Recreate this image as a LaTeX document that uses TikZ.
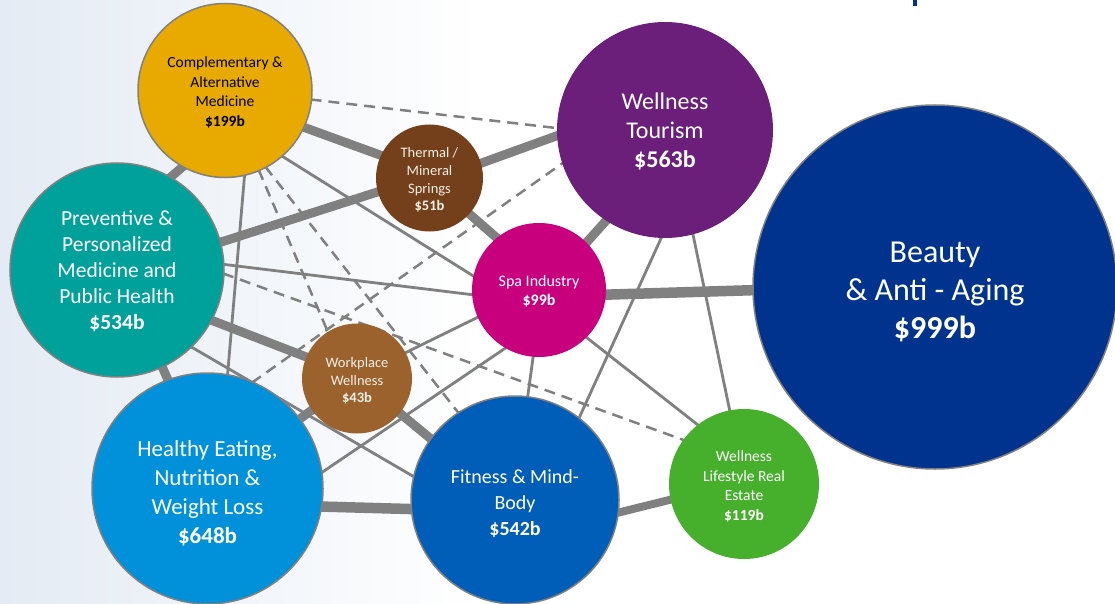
\documentclass[tikz,border=0pt]{standalone}
\usepackage{fontspec}
\setmainfont{Carlito}
\pgfdeclarelayer{bg}
\pgfdeclarelayer{edges}
\pgfsetlayers{bg,edges,main}
\definecolor{camc}{RGB}{233,170,0}
\definecolor{thermc}{RGB}{116,63,27}
\definecolor{wtc}{RGB}{108,31,122}
\definecolor{beautyc}{RGB}{0,51,141}
\definecolor{ppmc}{RGB}{0,161,155}
\definecolor{spac}{RGB}{200,0,125}
\definecolor{wpc}{RGB}{155,98,46}
\definecolor{hec}{RGB}{0,145,218}
\definecolor{fitc}{RGB}{0,94,184}
\definecolor{rec}{RGB}{70,176,45}
\definecolor{linec}{RGB}{128,128,128}
\definecolor{bgc}{RGB}{228,235,244}
\definecolor{softwhite}{RGB}{248,240,230}
\newcommand{\setfs}[2]{\fontsize{#1}{#2}\selectfont}
\tikzset{
  bubble/.style={circle, inner sep=0pt, outer sep=0pt},
  lbl/.style={align=center, text=white, inner sep=0pt},
  ring/.style={draw=linec, line width=1.5pt},
  heavyedge/.style={draw=linec, line width=9pt, shorten <=-5pt, shorten >=-5pt},
  thinedge/.style={draw=linec, line width=2.8pt, shorten <=-3pt, shorten >=-3pt},
  dashedge/.style={draw=linec, line width=2.5pt, dash pattern=on 11pt off 7pt, shorten <=-1pt, shorten >=-1pt},
}
\begin{document}
\begin{tikzpicture}[x=1pt,y=-1pt]
\useasboundingbox (0,0) rectangle (1115,604);
\begin{pgfonlayer}{bg}
  \fill[white] (0,0) rectangle (1115,604);
  \shade[left color=bgc, right color=white] (0,0) rectangle (480,604);
  \fill[beautyc] (913,0) rectangle (916.5,6);
\end{pgfonlayer}

\node[bubble, fill=camc, ring, minimum size=174pt,
  label={[lbl, text=black, yshift=-2pt, font=\setfs{15.5}{19.5}]center:{Complementary \&\\Alternative\\Medicine\\\textbf{\$199b}}}] (cam) at (225,90.5) {};
\node[bubble, fill=thermc, minimum size=107pt,
  label={[lbl, text=softwhite, yshift=-2pt, font=\setfs{14.5}{17.7}]center:{Thermal /\\Mineral\\Springs\\\textbf{\$51b}}}] (therm) at (429.5,178) {};
\node[bubble, fill=wtc, minimum size=216pt,
  label={[lbl, yshift=-1.5pt, font=\setfs{24}{29}]center:{Wellness\\Tourism\\\textbf{\$563b}}}] (wt) at (665,130) {};
\node[bubble, fill=beautyc, ring, minimum size=364pt,
  label={[lbl, yshift=-5pt, font=\setfs{32}{38}]center:{Beauty\\\& Anti - Aging\\\textbf{\$999b}}}] (beauty) at (935,287) {};
\node[bubble, fill=ppmc, ring, minimum size=214pt,
  label={[lbl, yshift=-1.5pt, font=\setfs{21.5}{26}]center:{Preventive \&\\Personalized\\Medicine and\\Public Health\\\textbf{\$534b}}}] (ppm) at (117,270) {};
\node[bubble, fill=spac, minimum size=134pt,
  label={[lbl, yshift=-1.5pt, font=\setfs{16}{19}]center:{Spa Industry\\\textbf{\$99b}}}] (spa) at (539,290) {};
\node[bubble, fill=wpc, minimum size=110pt,
  label={[lbl, text=softwhite, yshift=-2.5pt, font=\setfs{14.5}{17.5}]center:{Workplace\\Wellness\\\textbf{\$43b}}}] (wp) at (357,378.5) {};
\node[bubble, fill=hec, ring, minimum size=231pt,
  label={[lbl, yshift=-4.5pt, font=\setfs{23}{29}]center:{Healthy Eating,\\Nutrition \&\\Weight Loss\\\textbf{\$648b}}}] (he) at (207.5,488.5) {};
\node[bubble, fill=fitc, ring, minimum size=208pt,
  label={[lbl, yshift=-3.5pt, font=\setfs{20}{26}]center:{Fitness \& Mind-\\Body\\\textbf{\$542b}}}] (fit) at (515,500) {};
\node[bubble, fill=rec, minimum size=150pt,
  label={[lbl, yshift=-2.5pt, font=\setfs{15.5}{19.5}]center:{Wellness\\Lifestyle Real\\Estate\\\textbf{\$119b}}}] (re) at (744,484) {};

\begin{pgfonlayer}{edges}
  % heavy links
  \draw[heavyedge] (cam.241) -- (ppm.60);
  \draw[heavyedge] (cam.335) -- (therm.155);
  \draw[heavyedge] (ppm.15) -- (therm.195);
  \draw[heavyedge] (therm.16) -- (wt.183);
  \draw[heavyedge] (therm.318) -- (spa.129);
  \draw[heavyedge] (spa.45) -- (wt.237);
  \draw[heavyedge, line width=10.5pt] (spa.356) -- (beauty.181);
  \draw[heavyedge] (ppm.332) -- (wp.157);
  \draw[heavyedge] (ppm.295) -- (he.110);
  \draw[heavyedge] (he.37) -- (wp.215);
  \draw[heavyedge] (wp.321) -- (fit.144);
  \draw[heavyedge, line width=10.5pt] (he.351) -- (fit.185);
  \draw[heavyedge, line width=8pt] (fit.353) -- (re.192);
  % thin links
  \draw[thinedge] (cam.311) -- (spa.168);
  \draw[thinedge] (cam.283) -- (he.80);
  \draw[thinedge] (ppm.3) -- (spa.184);
  \draw[thinedge] (ppm.314) -- (fit.167);
  \draw[thinedge] (wp.28) -- (spa.204);
  \draw[thinedge] (he.8) -- (spa.240);
  \draw[thinedge] (spa.265) -- (fit.83);
  \draw[thinedge] (spa.315) -- (re.128);
  \draw[thinedge] (wt.268) -- (fit.52);
  \draw[thinedge] (wt.285) -- (re.101);
  % dashed links
  \draw[dashedge] (cam.354) -- (wt.179);
  \draw[dashedge] (cam.293) -- (wp.122);
  \draw[dashedge] (cam.298) -- (fit.123);
  \draw[dashedge] (ppm.358) -- (re.144);
  \draw[dashedge] (he.67) -- (wt.198);
\end{pgfonlayer}
\end{tikzpicture}
\end{document}
